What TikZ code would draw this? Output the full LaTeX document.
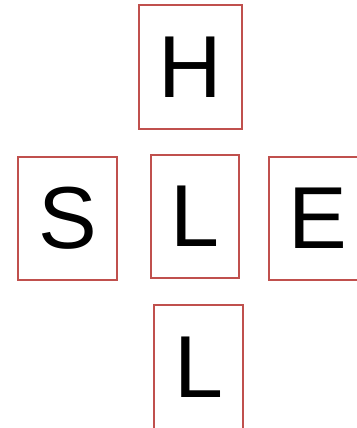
\documentclass[tikz,border=0pt]{standalone}
\usepackage{fontspec}
\setmainfont{Liberation Sans}
\definecolor{boxred}{HTML}{C0504D}
\tikzset{
  letterbox/.style={draw=boxred, line width=1.5pt, inner sep=0pt,
    font=\fontsize{88}{88}\selectfont}
}
\begin{document}
\begin{tikzpicture}[x=1pt, y=-1pt]
	\useasboundingbox (0,0) rectangle (356,428);
	\node[letterbox, minimum width=103pt, minimum height=124pt] (boxH) at (190.5,67) {H};
	\node[letterbox, minimum width=99pt, minimum height=123pt] (boxS) at (67.5,218.5) {S};
	\node[letterbox, minimum width=88pt, minimum height=123pt] (boxL) at (195,216.5) {L};
	\node[letterbox, minimum width=97pt, minimum height=123pt] (boxE) at (317.5,218.5) {E};
	\node[letterbox, minimum width=89pt, minimum height=124pt] (boxLL) at (198.5,367) {L};
\end{tikzpicture}
\end{document}
